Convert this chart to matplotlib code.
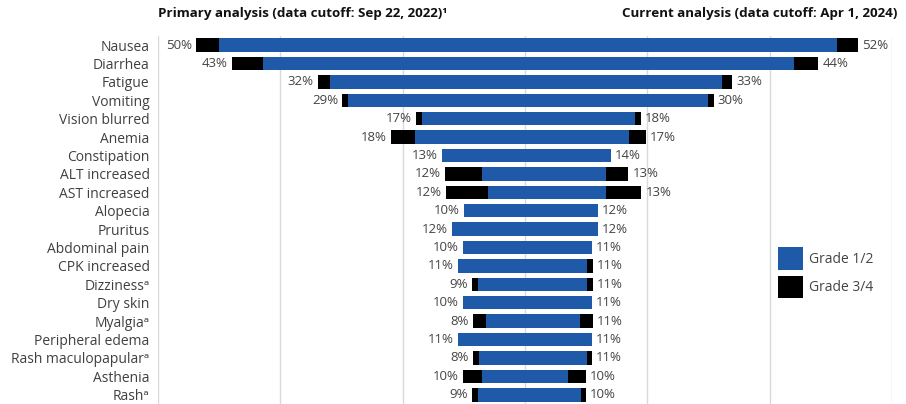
import numpy as np
import matplotlib
matplotlib.use('Agg')
import matplotlib.pyplot as plt
from matplotlib.patches import Patch

plt.rcParams['font.family'] = ['Open Sans', 'DejaVu Sans']

categories = ['Nausea', 'Diarrhea', 'Fatigue', 'Vomiting', 'Vision blurred', 'Anemia',
              'Constipation', 'ALT increased', 'AST increased', 'Alopecia', 'Pruritus',
              'Abdominal pain', 'CPK increased', 'Dizzinessᵃ', 'Dry skin', 'Myalgiaᵃ',
              'Peripheral edema', 'Rash maculopapularᵃ', 'Asthenia', 'Rashᵃ']

# labels printed next to the bars
primary_total = [50, 43, 32, 29, 17, 18, 13, 12, 12, 10, 12, 10, 11, 9, 10, 8, 11, 8, 10, 9]
current_total = [52, 44, 33, 30, 18, 17, 14, 13, 13, 12, 12, 11, 11, 11, 11, 11, 11, 11, 10, 10]

# bar segments as drawn (grade 1/2 and grade 3/4)
primary_g12 = [46.5, 39.7, 29.3, 26.5, 15.1, 16.2, 12.0, 5.9, 4.9, 8.6,
               10.5, 8.8, 9.6, 6.5, 8.8, 5.2, 9.6, 6.3, 5.9, 6.5]
primary_g34 = [3.5, 4.8, 1.9, 0.9, 0.9, 3.7, 0.0, 5.6, 6.5, 0.0,
               0.0, 0.0, 0.0, 0.9, 0.0, 2.0, 0.0, 0.9, 2.9, 0.9]
current_g12 = [48.9, 42.3, 31.2, 29.0, 17.7, 16.8, 14.0, 13.3, 13.3, 12.0,
               12.0, 11.1, 10.3, 10.3, 11.1, 9.3, 11.1, 10.3, 7.4, 9.4]
current_g34 = [3.2, 3.7, 1.5, 0.9, 0.9, 2.6, 0.0, 3.4, 5.4, 0.0,
               0.0, 0.0, 0.9, 0.9, 0.0, 1.9, 0.0, 0.8, 2.8, 0.8]

BLUE  = '#1f5aa8'
BLACK = '#000000'
GREY  = '#444444'

p12 = np.array(primary_g12)
p34 = np.array(primary_g34)
c12 = np.array(current_g12)
c34 = np.array(current_g34)
y   = np.arange(len(categories))

fig = plt.figure(figsize=(9.06, 4.04), dpi=100)
ax  = fig.add_axes([158 / 906, 0.0, 734 / 906, 368.2 / 404])

h = 0.73
ax.barh(y, -p12, height=h, color=BLUE, linewidth=0, zorder=3)
ax.barh(y, -p34, left=-p12, height=h, color=BLACK, linewidth=0, zorder=3)
ax.barh(y, c12, height=h, color=BLUE, linewidth=0, zorder=3)
ax.barh(y, c34, left=c12, height=h, color=BLACK, linewidth=0, zorder=3)

for i in range(len(categories)):
  ax.annotate('{}%'.format(primary_total[i]), (-(p12[i] + p34[i]), y[i]),
              xytext=(-3, 0), textcoords='offset points', ha='right', va='center',
              fontsize=9.5, color=GREY)
  ax.annotate('{}%'.format(current_total[i]), (c12[i] + c34[i], y[i]),
              xytext=(3, 0), textcoords='offset points', ha='left', va='center',
              fontsize=9.5, color=GREY)

ax.set_xlim(-55.86, 57.41)
ax.set_ylim(len(categories) - 0.5, -0.5)
ax.set_xticks(np.linspace(-55.86, 57.41, 7))
ax.set_xticklabels([])
ax.grid(axis='x', color='#d9d9d9', linewidth=1, zorder=0)
ax.set_yticks(y)
ax.set_yticklabels(categories, fontsize=10, color='#404040')
ax.tick_params(length=0, pad=6)
for s in ax.spines.values():
  s.set_visible(False)

fig.text(158 / 906, 1 - 14 / 404, 'Primary analysis (data cutoff: Sep 22, 2022)¹',
         ha='left', va='center', fontsize=9.6, fontweight='bold', color='#111111')
fig.text(897 / 906, 1 - 14 / 404, 'Current analysis (data cutoff: Apr 1, 2024)',
         ha='right', va='center', fontsize=9.6, fontweight='bold', color='#111111')

handles = [Patch(facecolor=BLUE, label='Grade 1/2'),
           Patch(facecolor=BLACK, label='Grade 3/4')]
ax.legend(handles=handles, loc='upper left', bbox_to_anchor=(0.845, 0.426),
          frameon=False, fontsize=10, handlelength=1.8, handleheight=2.1,
          labelspacing=0.45, handletextpad=0.4, borderpad=0, borderaxespad=0,
          labelcolor=GREY)

fig.savefig('out.png', dpi=100)
